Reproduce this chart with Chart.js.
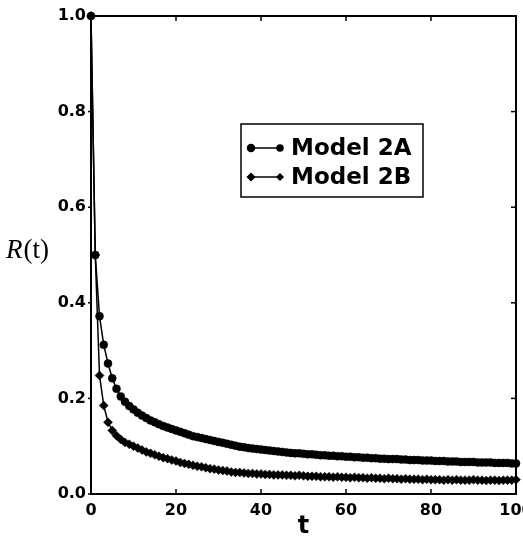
<!DOCTYPE html>
<html><head><meta charset="utf-8">
<script src="https://cdn.jsdelivr.net/npm/chart.js@4/dist/chart.umd.min.js"></script>
<style>html,body{margin:0;padding:0;background:#fff;}canvas{display:block;}</style>
</head><body>
<canvas id="c" width="523" height="538"></canvas>
<script>
const tValues = [0,1,2,3,4,5,6,7,8,9,10,11,12,13,14,15,16,17,18,19,20,21,22,23,24,25,26,27,28,29,30,31,32,33,34,35,36,37,38,39,40,41,42,43,44,45,46,47,48,49,50,51,52,53,54,55,56,57,58,59,60,61,62,63,64,65,66,67,68,69,70,71,72,73,74,75,76,77,78,79,80,81,82,83,84,85,86,87,88,89,90,91,92,93,94,95,96,97,98,99,100];
const model2A = [1.000,0.500,0.372,0.312,0.273,0.242,0.220,0.204,0.193,0.184,0.177,0.170,0.164,0.159,0.154,0.150,0.146,0.142,0.139,0.136,0.133,0.130,0.127,0.124,0.121,0.119,0.117,0.115,0.113,0.111,0.109,0.107,0.105,0.103,0.101,0.099,0.098,0.096,0.095,0.094,0.093,0.092,0.091,0.090,0.089,0.088,0.087,0.086,0.085,0.085,0.084,0.083,0.083,0.082,0.081,0.081,0.080,0.080,0.079,0.079,0.078,0.078,0.077,0.077,0.076,0.076,0.075,0.075,0.074,0.074,0.073,0.073,0.073,0.072,0.072,0.071,0.071,0.071,0.070,0.070,0.070,0.069,0.069,0.069,0.068,0.068,0.068,0.067,0.067,0.067,0.067,0.066,0.066,0.066,0.066,0.065,0.065,0.065,0.065,0.064,0.064];
const model2B = [1.000,0.500,0.248,0.185,0.150,0.133,0.122,0.114,0.108,0.104,0.100,0.096,0.092,0.088,0.085,0.082,0.079,0.076,0.074,0.071,0.069,0.066,0.064,0.062,0.060,0.058,0.057,0.055,0.053,0.052,0.050,0.049,0.048,0.046,0.045,0.045,0.044,0.043,0.043,0.042,0.042,0.041,0.041,0.040,0.040,0.040,0.039,0.039,0.038,0.039,0.038,0.037,0.037,0.037,0.036,0.036,0.036,0.035,0.036,0.035,0.035,0.034,0.035,0.034,0.034,0.033,0.034,0.033,0.033,0.032,0.033,0.032,0.032,0.031,0.032,0.031,0.031,0.031,0.030,0.031,0.030,0.030,0.030,0.029,0.030,0.029,0.030,0.029,0.029,0.029,0.030,0.029,0.029,0.028,0.029,0.029,0.028,0.029,0.029,0.029,0.030];
const seriesNames = ['Model 2A','Model 2B'];
const xTicks = [0,20,40,60,80,100];
const yTicks = [0,0.2,0.4,0.6,0.8,1.0];

const toXY = arr => arr.map((v,i)=>({x:tValues[i], y:v}));

const framePlugin = {
  id:'frame',
  afterDatasetsDraw(chart){
    const {ctx, chartArea:a, scales:{x,y}} = chart;
    ctx.save();
    ctx.strokeStyle='#000'; ctx.lineWidth=2;
    ctx.strokeRect(a.left, a.top, a.right-a.left, a.bottom-a.top);
    ctx.lineWidth=1.5;
    xTicks.forEach(v=>{
      const px = x.getPixelForValue(v);
      ctx.beginPath(); ctx.moveTo(px,a.bottom); ctx.lineTo(px,a.bottom-5); ctx.stroke();
      ctx.beginPath(); ctx.moveTo(px,a.top); ctx.lineTo(px,a.top+5); ctx.stroke();
    });
    yTicks.forEach(v=>{
      const py = y.getPixelForValue(v);
      ctx.beginPath(); ctx.moveTo(a.left-3,py); ctx.lineTo(a.left,py); ctx.stroke();
      ctx.beginPath(); ctx.moveTo(a.right,py); ctx.lineTo(a.right-5,py); ctx.stroke();
    });
    // y title R(t)
    ctx.fillStyle='#000';
    ctx.textBaseline='alphabetic'; ctx.textAlign='left';
    ctx.font='italic 27px "Liberation Serif"';
    ctx.fillText('R',6,258);
    const w = ctx.measureText('R').width;
    ctx.font='27px "Liberation Serif"';
    ctx.fillText('(t)',6+w+1,258);
    // legend
    const bx=241, by=124, bw=182, bh=73;
    ctx.lineWidth=1.5;
    ctx.strokeRect(bx,by,bw,bh);
    const rows=[148,177];
    chart.data.datasets.forEach((ds,i)=>{
      const ry=rows[i];
      ctx.lineWidth=1.5;
      ctx.beginPath(); ctx.moveTo(251,ry); ctx.lineTo(280,ry); ctx.stroke();
      Chart.helpers.drawPoint(ctx,{pointStyle:ds.pointStyle, radius:3.5, rotation:0, borderWidth:1},251,ry);
      ctx.fill();
      Chart.helpers.drawPoint(ctx,{pointStyle:ds.pointStyle, radius:3, rotation:0, borderWidth:1},280,ry);
      ctx.fill();
      ctx.font='bold 23px "DejaVu Sans"';
      ctx.textBaseline='middle';
      ctx.fillText(ds.label,291,ry+1);
    });
    ctx.restore();
  }
};

new Chart(document.getElementById('c'),{
  type:'line',
  data:{
    datasets:[
      {label:seriesNames[0], data:toXY(model2A), borderColor:'#000', backgroundColor:'#000', borderWidth:1.5,
       pointStyle:'circle', pointRadius:4, pointBackgroundColor:'#000', pointBorderColor:'#000', pointBorderWidth:0.5, clip:false},
      {label:seriesNames[1], data:toXY(model2B), borderColor:'#000', backgroundColor:'#000', borderWidth:1.5,
       pointStyle:'rectRot', pointRadius:4.5, pointBackgroundColor:'#000', pointBorderColor:'#000', pointBorderWidth:0.5, clip:false}
    ]
  },
  options:{
    responsive:false, animation:false, devicePixelRatio:1,
    layout:{padding:{left:0,right:7,top:16,bottom:0}},
    plugins:{legend:{display:false}, tooltip:{enabled:false}},
    elements:{line:{tension:0}},
    scales:{
      x:{type:'linear', min:0, max:100,
         afterBuildTicks(s){ s.ticks = xTicks.map(v=>({value:v})); },
         ticks:{color:'#000', font:{family:'DejaVu Sans', weight:'bold', size:16}, padding:-1, maxRotation:0, autoSkip:false},
         grid:{display:false}, border:{display:true,color:'#000',width:2},
         title:{display:true, text:'t', color:'#000', font:{family:'DejaVu Sans', weight:'bold', size:24}, padding:{top:0,bottom:-3}},
         afterFit(s){ s.height=44; s.paddingLeft=0; s.paddingRight=0; }
      },
      y:{type:'linear', min:0, max:1,
         afterBuildTicks(s){ s.ticks = yTicks.map(v=>({value:v})); },
         ticks:{color:'#000', font:{family:'DejaVu Sans', weight:'bold', size:16}, padding:-3, callback:v=>Number(v).toFixed(1)},
         grid:{display:false}, border:{display:true,color:'#000',width:2},
         afterFit(s){ s.width=91; s.paddingTop=0; s.paddingBottom=0; }
      }
    }
  },
  plugins:[framePlugin]
});
</script>
</body></html>
